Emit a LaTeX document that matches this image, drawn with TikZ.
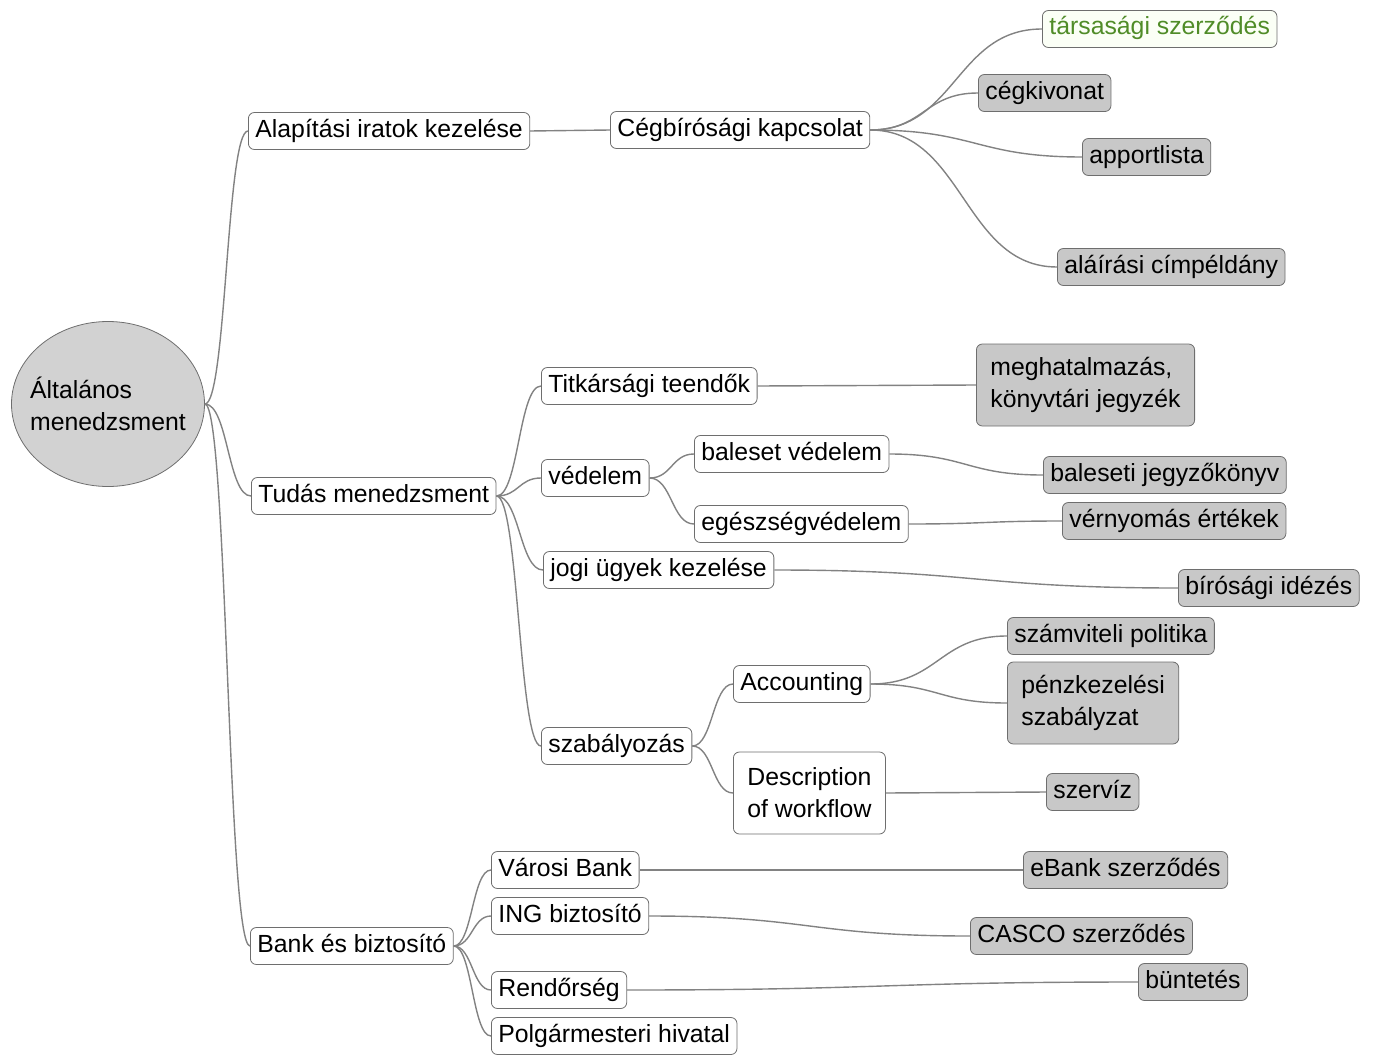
\documentclass[tikz,border=0pt]{standalone}
\usepackage{fontspec}
\setmainfont{Liberation Sans}
\usetikzlibrary{shapes.geometric,calc}

\definecolor{linkgray}{RGB}{130,130,130}
\definecolor{boxline}{RGB}{110,110,110}
\definecolor{leafgray}{RGB}{200,200,200}
\definecolor{rootgray}{RGB}{210,210,210}
\definecolor{docgreen}{RGB}{80,140,40}
\definecolor{docfill}{RGB}{251,255,246}

\tikzset{
  topic/.style={draw=boxline, fill=white, rounded corners=3pt, anchor=west,
    font=\fontsize{12.4}{16}\selectfont, inner xsep=3.5pt, inner ysep=3.25pt,
    text height=9pt, text depth=3pt},
  leaf/.style={topic, fill=leafgray},
  doc/.style={topic, fill=docfill, text=docgreen},
  twoline/.style={text height=, text depth=, align=left, inner xsep=7pt, minimum height=41pt},
  root/.style={ellipse, draw=boxline, fill=rootgray, minimum width=96.5pt, minimum height=82.5pt,
    inner xsep=-6pt, inner ysep=0pt, align=left, font=\fontsize{12.4}{16}\selectfont},
  branch/.style={draw=linkgray, line width=0.7pt,
    to path={let \p1=(\tikztostart), \p2=(\tikztotarget), \n1={0.5*(\x2-\x1)} in
      .. controls +(\n1*1pt,0) and +(-\n1*1pt,0) .. (\tikztotarget)}}
}

\begin{document}
\begin{tikzpicture}[x=0.5pt,y=-0.5pt]
    \useasboundingbox (0,0) rectangle (1375,1054);

    % centre
    \node[root] (root) at (108,404) {Általános\\menedzsment};

    % first level
    \node[topic] (alap) at (248,131) {Alapítási iratok kezelése};
    \node[topic] (tudas) at (251,496) {Tudás menedzsment};
    \node[topic] (bank) at (250,946) {Bank és biztosító};

    % second level
    \node[topic] (ceg) at (610,130) {Cégbírósági kapcsolat};
    \node[topic] (titk) at (541,386) {Titkársági teendők};
    \node[topic] (vedelem) at (541,478) {védelem};
    \node[topic] (jogi) at (543,570) {jogi ügyek kezelése};
    \node[topic] (szab) at (541,746) {szabályozás};
    \node[topic] (varosi) at (491,870) {Városi Bank};
    \node[topic] (ing) at (491,916) {ING biztosító};
    \node[topic] (rendor) at (491,990) {Rendőrség};
    \node[topic] (polg) at (491,1036) {Polgármesteri hivatal};

    % third level
    \node[topic] (baleset) at (694,454) {baleset védelem};
    \node[topic] (egesz) at (694,524) {egészségvédelem};
    \node[topic] (acc) at (733,684) {Accounting};
    \node[topic,twoline] (descr) at (733,793) {Description\\of workflow};

    % documents
    \node[doc] (tars) at (1042,29) {társasági szerződés};
    \node[leaf] (cegkiv) at (978,93) {cégkivonat};
    \node[leaf] (apport) at (1082,157) {apportlista};
    \node[leaf] (alair) at (1057,267) {aláírási címpéldány};
    \node[leaf,twoline] (megh) at (976,385) {meghatalmazás,\\könyvtári jegyzék};
    \node[leaf] (balj) at (1043,475) {baleseti jegyzőkönyv};
    \node[leaf] (vern) at (1062,521) {vérnyomás értékek};
    \node[leaf] (biro) at (1178,588) {bírósági idézés};
    \node[leaf] (szamv) at (1007,636) {számviteli politika};
    \node[leaf,twoline] (penz) at (1007,703) {pénzkezelési\\szabályzat};
    \node[leaf] (szerviz) at (1046,792) {szervíz};
    \node[leaf] (ebank) at (1023,870) {eBank szerződés};
    \node[leaf] (casco) at (970,936) {CASCO szerződés};
    \node[leaf] (buntet) at (1138,982) {büntetés};

    % connections
    \foreach \a/\b in {root/alap, root/tudas, root/bank, alap/ceg,
        ceg/tars, ceg/cegkiv, ceg/apport, ceg/alair,
        tudas/titk, tudas/vedelem, tudas/jogi, tudas/szab,
        titk/megh, vedelem/baleset, vedelem/egesz, baleset/balj, egesz/vern,
        jogi/biro, szab/acc, szab/descr, acc/szamv, acc/penz, descr/szerviz,
        bank/varosi, bank/ing, bank/rendor, bank/polg,
        varosi/ebank, ing/casco, rendor/buntet}
      \draw[branch] (\a.east) to (\b.west);
\end{tikzpicture}
\end{document}
